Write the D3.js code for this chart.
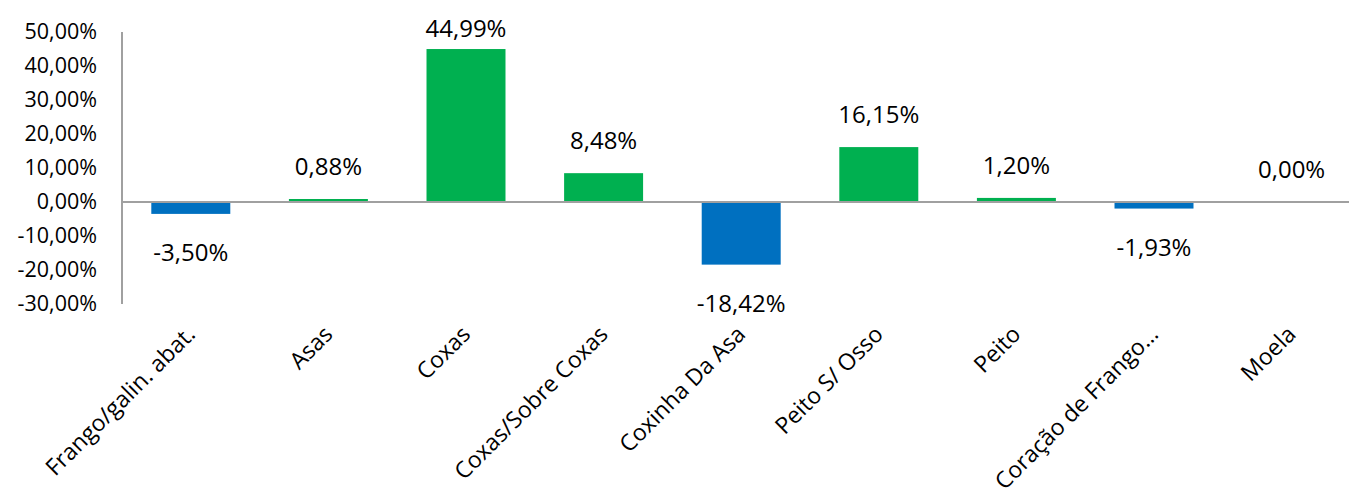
<!DOCTYPE html>
<html>
<head>
<meta charset="utf-8">
<script src="https://cdn.jsdelivr.net/npm/d3@7"></script>
<style>
  html, body { margin: 0; padding: 0; background: #fff; }
  svg { display: block; font-family: "Open Sans", "Noto Sans", sans-serif; }
</style>
</head>
<body>
<svg id="chart" width="1349" height="501"></svg>
<script>
// Variação de preço por corte de frango
const categories = [
  "Frango/galin. abat.", "Asas", "Coxas", "Coxas/Sobre Coxas", "Coxinha Da Asa",
  "Peito S/ Osso", "Peito", "Coração de Frango…", "Moela"
];
const values = [-3.50, 0.88, 44.99, 8.48, -18.42, 16.15, 1.20, -1.93, 0.00];
const yTicks = [-30, -20, -10, 0, 10, 20, 30, 40, 50];

const positiveColor = "#00B050";
const negativeColor = "#0070C0";
const axisColor = "#A0A0A0";

const locale = d3.formatLocale({ decimal: ",", thousands: ".", grouping: [3], currency: ["R$", ""], minus: "-" });
const pct = v => locale.format(".2f")(v) + "%";

const svg = d3.select("#chart");

const left = 122;
const step = 137.6;
const x = d3.scaleBand()
  .domain(categories)
  .range([left, left + step * categories.length])
  .paddingInner(0.426)
  .paddingOuter(0.213);

const y = d3.scaleLinear().domain([-30, 50]).range([304, 32]);

const data = categories.map((c, i) => ({ cat: c, val: values[i] }));

// bars
svg.append("g").selectAll("rect")
  .data(data.filter(d => d.val !== 0))
  .join("rect")
  .attr("x", d => x(d.cat))
  .attr("width", x.bandwidth())
  .attr("y", d => y(Math.max(0, d.val)))
  .attr("height", d => Math.abs(y(d.val) - y(0)))
  .attr("fill", d => d.val >= 0 ? positiveColor : negativeColor);

// y axis (labels only, no tick marks)
const yAxis = d3.axisLeft(y).tickValues(yTicks).tickFormat(pct).tickSize(0).tickPadding(25);
const gy = svg.append("g").attr("transform", `translate(${left},0)`).call(yAxis);
gy.select(".domain").remove();
gy.selectAll("text")
  .attr("fill", "#000")
  .style("font-size", "21.5px")
  .style("font-family", "'Open Sans', 'Noto Sans', sans-serif");

// vertical axis line
svg.append("line")
  .attr("x1", left).attr("x2", left)
  .attr("y1", y(50)).attr("y2", y(-30))
  .attr("stroke", axisColor).attr("stroke-width", 2);

// zero baseline
svg.append("line")
  .attr("x1", left).attr("x2", 1349)
  .attr("y1", y(0)).attr("y2", y(0))
  .attr("stroke", axisColor).attr("stroke-width", 2);

// value labels
svg.append("g").selectAll("text")
  .data(data)
  .join("text")
  .attr("x", d => x(d.cat) + x.bandwidth() / 2)
  .attr("y", d => d.val >= 0 ? Math.max(y(d.val) - 24, 37) : y(d.val) + 47)
  .attr("text-anchor", "middle")
  .attr("fill", "#000")
  .style("font-size", "24px")
  .text(d => pct(d.val));

// category labels, rotated
svg.append("g").selectAll("text")
  .data(categories)
  .join("text")
  .attr("transform", c => `translate(${x(c) + x.bandwidth() / 2},330) rotate(-45)`)
  .attr("text-anchor", "end")
  .attr("dy", "0.35em")
  .attr("fill", "#000")
  .style("font-size", "23px")
  .text(c => c);
</script>
</body>
</html>
